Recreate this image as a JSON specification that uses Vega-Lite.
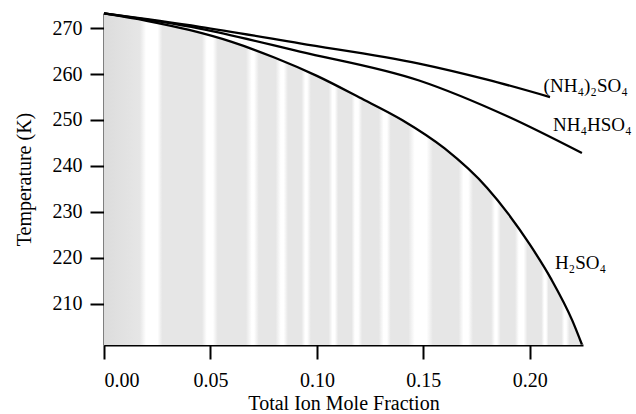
{
  "$schema": "https://vega.github.io/schema/vega-lite/v6.json",
  "width": 479,
  "height": 332,
  "autosize": "none",
  "padding": {"left": 104, "top": 13, "right": 53, "bottom": 69},
  "background": "white",
  "config": {
    "view": {"stroke": null},
    "font": "Liberation Serif",
    "axis": {
      "grid": false,
      "domainColor": "black",
      "domainWidth": 2,
      "tickColor": "black",
      "tickWidth": 2,
      "tickSize": 14,
      "labelFont": "Liberation Serif",
      "labelFontSize": 20,
      "labelColor": "black",
      "titleFont": "Liberation Serif",
      "titleFontSize": 20,
      "titleFontWeight": "normal",
      "titleColor": "black"
    }
  },
  "datasets": {
    "curves": [
      {"series": "H2SO4", "x": 0.0, "T": 273.2},
      {"series": "H2SO4", "x": 0.02, "T": 271.6},
      {"series": "H2SO4", "x": 0.04, "T": 269.6},
      {"series": "H2SO4", "x": 0.06, "T": 267.0},
      {"series": "H2SO4", "x": 0.08, "T": 263.6},
      {"series": "H2SO4", "x": 0.1, "T": 259.6},
      {"series": "H2SO4", "x": 0.12, "T": 254.9},
      {"series": "H2SO4", "x": 0.14, "T": 250.0},
      {"series": "H2SO4", "x": 0.16, "T": 243.8},
      {"series": "H2SO4", "x": 0.18, "T": 235.2},
      {"series": "H2SO4", "x": 0.19, "T": 229.5},
      {"series": "H2SO4", "x": 0.2, "T": 222.9},
      {"series": "H2SO4", "x": 0.21, "T": 215.4},
      {"series": "H2SO4", "x": 0.22, "T": 206.3},
      {"series": "H2SO4", "x": 0.2245, "T": 201.1},
      {"series": "NH4HSO4", "x": 0.0, "T": 273.2},
      {"series": "NH4HSO4", "x": 0.045, "T": 269.9},
      {"series": "NH4HSO4", "x": 0.092, "T": 264.9},
      {"series": "NH4HSO4", "x": 0.148, "T": 258.6},
      {"series": "NH4HSO4", "x": 0.19, "T": 250.7},
      {"series": "NH4HSO4", "x": 0.2245, "T": 242.8},
      {"series": "(NH4)2SO4", "x": 0.0, "T": 273.2},
      {"series": "(NH4)2SO4", "x": 0.045, "T": 270.3},
      {"series": "(NH4)2SO4", "x": 0.092, "T": 266.7},
      {"series": "(NH4)2SO4", "x": 0.148, "T": 262.3},
      {"series": "(NH4)2SO4", "x": 0.18, "T": 258.8},
      {"series": "(NH4)2SO4", "x": 0.2095, "T": 255.0}
    ],
    "labels": [
      {"label": "(NH₄)₂SO₄", "x": 0.2065, "T": 257.5},
      {"label": "NH₄HSO₄", "x": 0.2109, "T": 248.9},
      {"label": "H₂SO₄", "x": 0.2118, "T": 218.9}
    ]
  },
  "layer": [
    {
      "data": {"name": "curves"},
      "transform": [{"filter": "datum.series === 'H2SO4'"}],
      "mark": {
        "type": "area",
        "interpolate": "monotone",
        "color": {
          "gradient": "linear",
          "x1": 0, "x2": 1, "y1": 0, "y2": 0,
          "stops": [
            {"offset": 0.0, "color": "#dcdcdc"},
            {"offset": 0.075, "color": "#e6e6e6"},
            {"offset": 0.088, "color": "#ffffff"},
            {"offset": 0.112, "color": "#ffffff"},
            {"offset": 0.122, "color": "#e6e6e6"},
            {"offset": 0.205, "color": "#e6e6e6"},
            {"offset": 0.215, "color": "#ffffff"},
            {"offset": 0.228, "color": "#ffffff"},
            {"offset": 0.238, "color": "#e6e6e6"},
            {"offset": 0.297, "color": "#e6e6e6"},
            {"offset": 0.309, "color": "#ffffff"},
            {"offset": 0.314, "color": "#ffffff"},
            {"offset": 0.324, "color": "#e6e6e6"},
            {"offset": 0.359, "color": "#e6e6e6"},
            {"offset": 0.37, "color": "#ffffff"},
            {"offset": 0.376, "color": "#ffffff"},
            {"offset": 0.385, "color": "#e6e6e6"},
            {"offset": 0.413, "color": "#e6e6e6"},
            {"offset": 0.421, "color": "#ffffff"},
            {"offset": 0.425, "color": "#ffffff"},
            {"offset": 0.433, "color": "#e6e6e6"},
            {"offset": 0.47, "color": "#e6e6e6"},
            {"offset": 0.478, "color": "#ffffff"},
            {"offset": 0.483, "color": "#ffffff"},
            {"offset": 0.49, "color": "#e6e6e6"},
            {"offset": 0.518, "color": "#e6e6e6"},
            {"offset": 0.525, "color": "#ffffff"},
            {"offset": 0.532, "color": "#ffffff"},
            {"offset": 0.54, "color": "#e6e6e6"},
            {"offset": 0.575, "color": "#e6e6e6"},
            {"offset": 0.585, "color": "#ffffff"},
            {"offset": 0.592, "color": "#ffffff"},
            {"offset": 0.6, "color": "#e6e6e6"},
            {"offset": 0.637, "color": "#e6e6e6"},
            {"offset": 0.65, "color": "#ffffff"},
            {"offset": 0.675, "color": "#ffffff"},
            {"offset": 0.688, "color": "#e6e6e6"},
            {"offset": 0.742, "color": "#e6e6e6"},
            {"offset": 0.752, "color": "#ffffff"},
            {"offset": 0.762, "color": "#ffffff"},
            {"offset": 0.772, "color": "#e6e6e6"},
            {"offset": 0.81, "color": "#e6e6e6"},
            {"offset": 0.818, "color": "#ffffff"},
            {"offset": 0.822, "color": "#ffffff"},
            {"offset": 0.83, "color": "#e6e6e6"},
            {"offset": 0.86, "color": "#e6e6e6"},
            {"offset": 0.868, "color": "#ffffff"},
            {"offset": 0.878, "color": "#ffffff"},
            {"offset": 0.886, "color": "#e6e6e6"},
            {"offset": 0.915, "color": "#e6e6e6"},
            {"offset": 0.921, "color": "#ffffff"},
            {"offset": 0.925, "color": "#ffffff"},
            {"offset": 0.93, "color": "#e6e6e6"},
            {"offset": 0.957, "color": "#e6e6e6"},
            {"offset": 0.963, "color": "#ffffff"},
            {"offset": 0.967, "color": "#ffffff"},
            {"offset": 0.974, "color": "#e6e6e6"},
            {"offset": 1.0, "color": "#e6e6e6"}
          ]
        }
      },
      "encoding": {
        "x": {"field": "x", "type": "quantitative"},
        "y": {"field": "T", "type": "quantitative"},
        "y2": {"datum": 201}
      }
    },
    {
      "data": {"name": "curves"},
      "mark": {"type": "line", "interpolate": "monotone", "color": "black", "strokeWidth": 2.3},
      "encoding": {
        "x": {
          "field": "x",
          "type": "quantitative",
          "scale": {"domain": [0, 0.225], "nice": false, "zero": false},
          "axis": {
            "title": "Total Ion Mole Fraction",
            "values": [0, 0.05, 0.1, 0.15, 0.2],
            "format": ".2f",
            "labelPadding": 11,
            "titlePadding": 3
          }
        },
        "y": {
          "field": "T",
          "type": "quantitative",
          "scale": {"domain": [201, 273.3], "nice": false, "zero": false},
          "axis": {
            "title": "Temperature (K)",
            "values": [210, 220, 230, 240, 250, 260, 270],
            "labelPadding": 8,
            "titlePadding": 18
          }
        },
        "detail": {"field": "series"}
      }
    },
    {
      "data": {"name": "labels"},
      "mark": {"type": "text", "align": "left", "baseline": "middle", "font": "Liberation Serif", "fontSize": 19, "color": "black"},
      "encoding": {
        "x": {"field": "x", "type": "quantitative"},
        "y": {"field": "T", "type": "quantitative"},
        "text": {"field": "label"}
      }
    }
  ]
}
